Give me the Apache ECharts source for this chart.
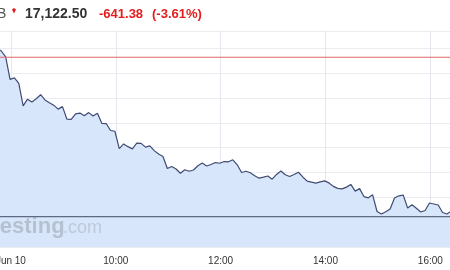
<!DOCTYPE html>
<html>
<head>
<meta charset="utf-8">
<script src="https://cdn.jsdelivr.net/npm/echarts@6/dist/echarts.min.js"></script>
<style>html,body{margin:0;padding:0;background:#fff;}#c{width:450px;height:270px;}</style>
</head>
<body>
<div id="c"></div>
<script>
const times = [
"07:44","07:49","07:54","07:59",
"08:04","08:09","08:14","08:19","08:24","08:29","08:34","08:39","08:44","08:49","08:54","08:59",
"09:04","09:09","09:14","09:19","09:24","09:29","09:34","09:39","09:44","09:49","09:54","09:59",
"10:04","10:09","10:14","10:19","10:24","10:29","10:34","10:39","10:44","10:49","10:54","10:59",
"11:04","11:09","11:14","11:19","11:24","11:29","11:34","11:39","11:44","11:49","11:54","11:59",
"12:04","12:09","12:14","12:19","12:24","12:29","12:34","12:39","12:44","12:49","12:54","12:59",
"13:04","13:09","13:14","13:19","13:24","13:29","13:34","13:39","13:44","13:49","13:54","13:59",
"14:04","14:09","14:14","14:19","14:24","14:29","14:34","14:39","14:44","14:49","14:54","14:59",
"15:04","15:09","15:14","15:19","15:24","15:29","15:34","15:39","15:44","15:49","15:54","15:59",
"16:04","16:09","16:14","16:19","16:24"
];
const prices = [
17801,17789,17765,17675,17681,17659,17568,17595,17584,17597,
17613,17592,17581,17571,17555,17565,17515,17514,17536,17539,
17528,17541,17527,17538,17498,17497,17469,17466,17396,17415,
17404,17395,17418,17417,17402,17407,17388,17374,17364,17316,
17324,17314,17297,17311,17305,17310,17327,17338,17326,17332,
17340,17337,17344,17343,17351,17331,17300,17305,17299,17287,
17277,17281,17286,17273,17292,17306,17291,17284,17292,17301,
17282,17265,17261,17257,17262,17266,17258,17244,17236,17234,
17241,17252,17225,17235,17203,17198,17210,17143,17133,17142,
17153,17197,17206,17209,17157,17170,17156,17141,17147,17177,
17173,17169,17139,17133,17145
];
const xTickTimes = ["08:00","10:00","12:00","14:00","16:00"];
const xTickLabels = ["Jun 10","10:00","12:00","14:00","16:00"];
const xStart = "07:47.5";
const xEnd = "16:22.5";
const prevClose = 17763.88;
const lastPrice = 17122.50;
const headerTicker = "B";
const headerPrice = "17,122.50";
const headerChange = "-641.38";
const headerPct = "(-3.61%)";

function toMin(s){const p=s.split(":");return (+p[0])*60+parseFloat(p[1]);}
const seriesData = times.map((t,i)=>[toMin(t), prices[i]]);
const tickVals = xTickTimes.map(toMin);
const xMin = toMin(xStart), xMax = toMin(xEnd);
const labelMap = {};
tickVals.forEach((v,i)=>{labelMap[v]=xTickLabels[i];});

const FONT = 'Arial, "Liberation Sans", sans-serif';
const chart = echarts.init(document.getElementById('c'), null, {renderer:'canvas'});
function refLine(name, value, color, width){
  return {
    name:name, type:'line', silent:true, showSymbol:false, symbol:'none', z:3,
    data:[[xMin, value],[xMax, value]],
    lineStyle:{color:color, width:width, type:'solid'},
    emphasis:{disabled:true}
  };
}
chart.setOption({
  animation:false,
  grid:{left:0,right:0,top:31,bottom:23,containLabel:false,outerBoundsMode:'none'},
  xAxis:{
    type:'value', min:xMin, max:xMax,
    axisLine:{show:false},
    axisTick:{show:false, customValues:tickVals},
    axisLabel:{customValues:tickVals, margin:9, color:'#333', fontSize:10, fontFamily:FONT,
      hideOverlap:false, formatter:v=>labelMap[v]||''},
    splitLine:{show:true, lineStyle:{color:'#e6e6ef', width:1}}
  },
  yAxis:{
    type:'value', position:'right', min:17000, max:17869.5, interval:100,
    axisLine:{show:false}, axisTick:{show:false}, axisLabel:{show:false},
    splitLine:{show:true, lineStyle:{color:'#ebebf2', width:1}}
  },
  series:[{
    name:'price', type:'line', data:seriesData, showSymbol:false, symbol:'none', z:2,
    lineStyle:{color:'#414c74', width:1.2},
    areaStyle:{color:'#d7e6fa', opacity:1, origin:'start'}
  },
  refLine('prevClose', prevClose, '#e06a6a', 1),
  refLine('last', lastPrice, '#5c6a82', 1.2)
  ],
  graphic:[
    {type:'text', left:-32, top:216, z:10, silent:true,
      style:{text:'Inv'+'esting', font:'bold 22px '+FONT, fill:'rgba(110,115,125,0.32)'}},
    {type:'text', left:63, top:219, z:10, silent:true,
      style:{text:'.com', font:'18px '+FONT, fill:'rgba(110,115,125,0.25)'}},
    {type:'text', left:-3, top:7, style:{text:headerTicker, font:'14px '+FONT, fill:'#555'}},
    {type:'polygon', shape:{points:[[12,9.5],[14,8],[16,9.5],[14,13.5]]}, style:{fill:'#e51c1c'}},
    {type:'text', left:25, top:7, style:{text:headerPrice, font:'bold 14px '+FONT, fill:'#333'}},
    {type:'text', left:99, top:8, style:{text:headerChange, font:'bold 13px '+FONT, fill:'#e51c1c'}},
    {type:'text', left:152, top:8, style:{text:headerPct, font:'bold 13px '+FONT, fill:'#e51c1c'}}
  ]
});
</script>
</body>
</html>
